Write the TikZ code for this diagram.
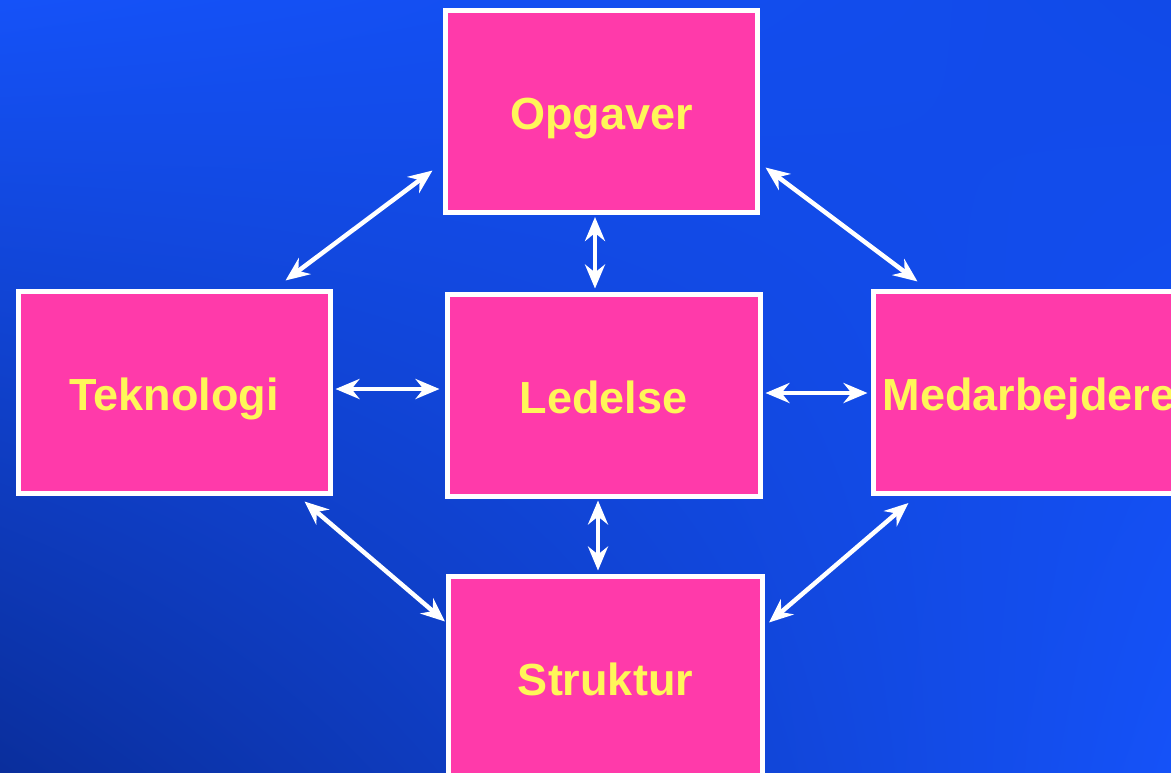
\documentclass[tikz,border=0pt]{standalone}
\usepackage{fontspec}
\setmainfont{Liberation Sans}
\usetikzlibrary{arrows.meta,calc,shadings}
\definecolor{bgbright}{HTML}{1552F8}
\definecolor{bgmid}{HTML}{114AE8}
\definecolor{bgdark}{HTML}{0A2E9C}
\definecolor{boxpink}{HTML}{FF3AAA}
\definecolor{labelyellow}{HTML}{FFF659}
\tikzset{
  block/.style={rectangle, draw=white, line width=5pt, fill=boxpink,
    minimum width=312pt, minimum height=202pt, inner sep=0pt,
    text height=36pt, text depth=0pt,
    text=labelyellow, font=\fontsize{45}{54}\selectfont\bfseries},
  link/.style={draw=white, line width=4.5pt,
    {Stealth[length=24pt,width=20pt,inset=8pt]}-{Stealth[length=24pt,width=20pt,inset=8pt]}}
}
\begin{document}
\begin{tikzpicture}[x=1pt,y=-1pt]
  % background
  \useasboundingbox (0,0) rectangle (1171,772);
  \shade[lower left=bgdark, upper left=bgbright, upper right=bgmid, lower right=bgbright]
    (0,772) rectangle (1171,0);
  % boxes
  \begin{scope}
    \clip (0,0) rectangle (1171,772);
    \node[block] (opg) at (601.5,111.5) {Opgaver};
    \node[block] (tek) at (174,392) {Teknologi};
    \node[block, minimum width=313pt] (led) at (603.5,395) {Ledelse};
    \node[block] (med) at (1029,392) {Medarbejdere};
    \node[block, minimum width=314pt] (str) at (605.5,677) {Struktur};
  \end{scope}
  % connectors
  \draw[link] ($(opg.south west)+(-10.5,-44.5)$) -- ($(tek.north east)+(-47,-8)$);
  \draw[link] ($(opg.south)+(-6.5,2)$) -- ($(led.north)+(-8.5,-3)$);
  \draw[link] ($(opg.south east)+(5.5,-47.5)$) -- ($(med.north west)+(47,-7)$);
  \draw[link] ($(tek.east)+(3,-3)$) -- ($(led.west)+(-5,-6)$);
  \draw[link] ($(led.east)+(3,-2)$) -- ($(med.west)+(-3,1)$);
  \draw[link] ($(tek.south east)+(-28,6)$) -- ($(str.north west)+(-1,48)$);
  \draw[link] ($(led.south)+(-5.5,2)$) -- ($(str.north)+(-7.5,-3)$);
  \draw[link] ($(med.south west)+(38,7.5)$) -- ($(str.north east)+(4,49)$);
\end{tikzpicture}
\end{document}
